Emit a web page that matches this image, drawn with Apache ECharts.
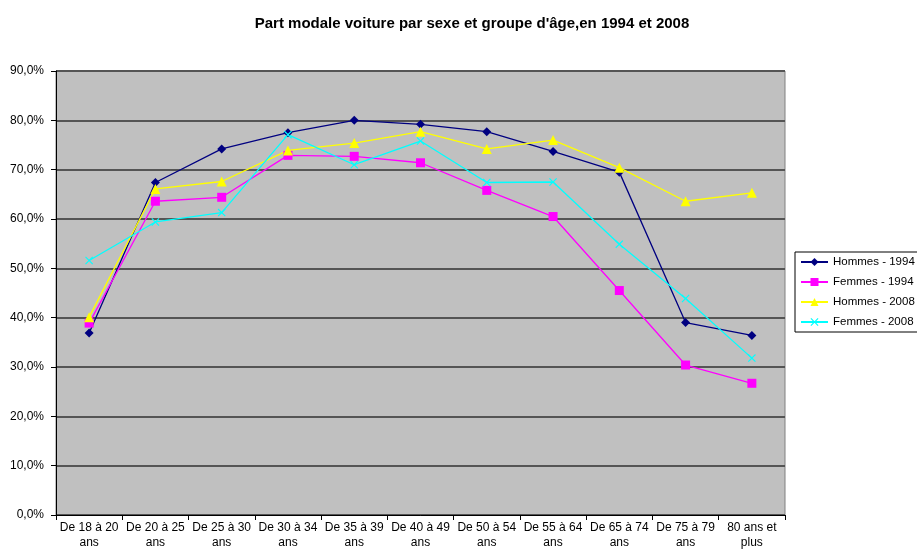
<!DOCTYPE html>
<html>
<head>
<meta charset="utf-8">
<script src="https://cdn.jsdelivr.net/npm/echarts@6/dist/echarts.min.js"></script>
<style>
  html, body { margin: 0; padding: 0; background: #fff; }
  #chart { width: 917px; height: 550px; }
</style>
</head>
<body>
<div id="chart"></div>
<script>
// tranches d'âge
const categories = [
  'De 18 à 20\nans', 'De 20 à 25\nans', 'De 25 à 30\nans', 'De 30 à 34\nans',
  'De 35 à 39\nans', 'De 40 à 49\nans', 'De 50 à 54\nans', 'De 55 à 64\nans',
  'De 65 à 74\nans', 'De 75 à 79\nans', '80 ans et\nplus'
]
const hommes1994 = [36.9, 67.4, 74.2, 77.5, 80.0, 79.2, 77.7, 73.7, 69.5, 39.0, 36.4]
const femmes1994 = [38.9, 63.6, 64.4, 72.9, 72.7, 71.4, 65.8, 60.5, 45.5, 30.4, 26.7]
const hommes2008 = [40.1, 66.1, 67.6, 73.9, 75.4, 77.7, 74.2, 76.0, 70.4, 63.6, 65.3]
const femmes2008 = [51.6, 59.4, 61.3, 77.1, 71.0, 75.8, 67.4, 67.5, 54.9, 43.9, 31.8]

const font = '"Liberation Sans", Arial, sans-serif'
const crossSymbol = 'path://M0,1 L1,0 L5,4 L9,0 L10,1 L6,5 L10,9 L9,10 L5,6 L1,10 L0,9 L4,5 Z'

function serie(name, data, color, symbol, size) {
  return {
    name: name,
    type: 'line',
    data: data,
    symbol: symbol,
    symbolSize: size,
    showAllSymbol: true,
    lineStyle: { color: color, width: 1.3 },
    itemStyle: { color: color },
    emphasis: { disabled: true },
    animation: false
  }
}

const chart = echarts.init(document.getElementById('chart'))
chart.setOption({
  textStyle: { fontFamily: font },
  title: {
    text: "Part modale voiture par sexe et groupe d'âge,en 1994 et 2008",
    left: 467,
    textAlign: 'center',
    top: 11,
    textStyle: { fontSize: 15, fontWeight: 'bold', color: '#000', fontFamily: font }
  },
  legend: {
    orient: 'vertical',
    left: 795,
    top: 252,
    padding: [4, 3, 4, 5],
    itemGap: 8,
    itemWidth: 27,
    itemHeight: 10,
    backgroundColor: '#fff',
    borderColor: '#000',
    borderWidth: 1,
    borderRadius: 0,
    textStyle: { fontSize: 11.5, color: '#000', fontFamily: font },
    data: ['Hommes - 1994', 'Femmes - 1994', 'Hommes - 2008', 'Femmes - 2008']
  },
  grid: {
    left: 56,
    right: 132,
    top: 71,
    bottom: 35,
    show: true,
    backgroundColor: '#c0c0c0',
    borderColor: '#808080',
    borderWidth: 1
  },
  xAxis: {
    type: 'category',
    data: categories,
    boundaryGap: true,
    axisLine: { lineStyle: { color: '#000', width: 1 } },
    axisTick: { show: true, length: 5, lineStyle: { color: '#000' } },
    axisLabel: { fontSize: 12, color: '#000', lineHeight: 15, margin: 5, interval: 0 },
    splitLine: { show: false }
  },
  yAxis: {
    type: 'value',
    min: 0,
    max: 90,
    interval: 10,
    axisLine: { show: true, lineStyle: { color: '#000', width: 1 } },
    axisTick: { show: true, length: 5, lineStyle: { color: '#000' } },
    axisLabel: {
      fontSize: 12,
      color: '#000',
      margin: 12,
      formatter: v => v.toFixed(1).replace('.', ',') + '%'
    },
    splitLine: { lineStyle: { color: '#555', width: 2 } }
  },
  series: [
    serie('Hommes - 1994', hommes1994, '#000080', 'diamond', 9),
    serie('Femmes - 1994', femmes1994, '#ff00ff', 'rect', 9),
    serie('Hommes - 2008', hommes2008, '#ffff00', 'triangle', 10),
    serie('Femmes - 2008', femmes2008, '#00ffff', crossSymbol, 8)
  ]
})
</script>
</body>
</html>
